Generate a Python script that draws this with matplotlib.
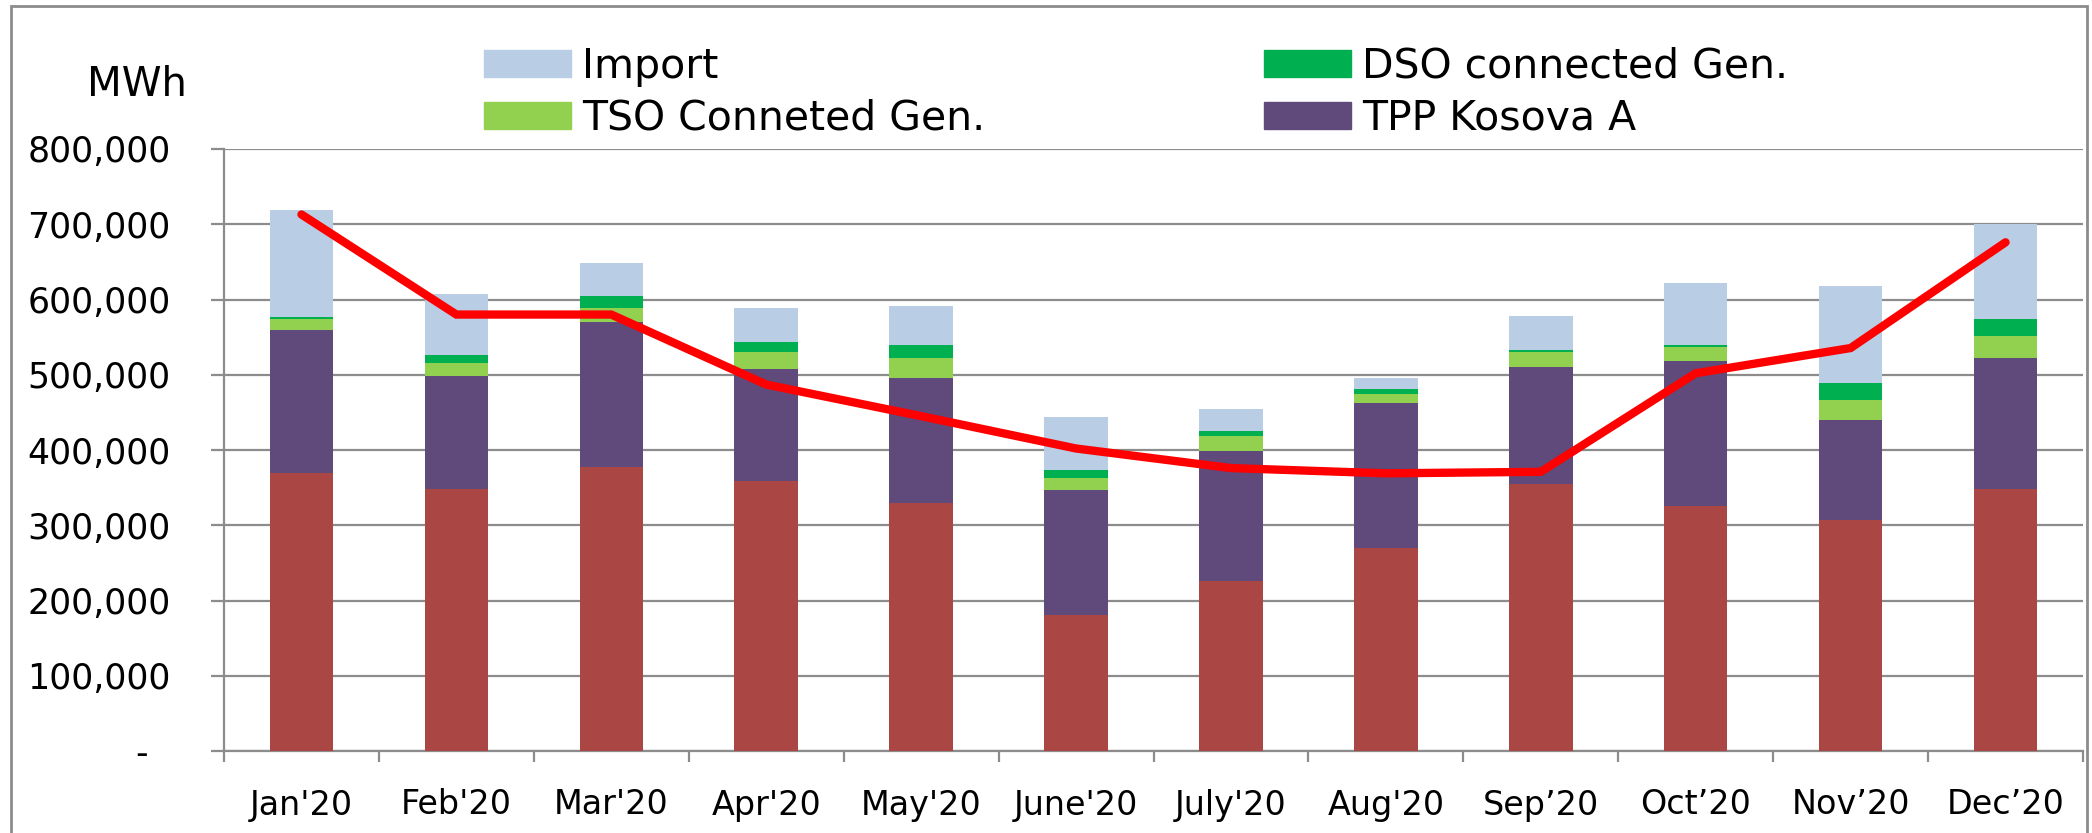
import matplotlib
matplotlib.use("Agg")
import matplotlib.pyplot as plt
from matplotlib.patches import Patch, Rectangle
from matplotlib.ticker import FixedLocator, FuncFormatter

# Monthly supply mix (MWh)
months = ["Jan'20", "Feb'20", "Mar'20", "Apr'20", "May'20", "June'20",
          "July'20", "Aug'20", "Sep\u201920", "Oct\u201920", "Nov\u201920", "Dec\u201920"]
tpp_kosova_b = [370000, 348000, 377000, 358500, 329000, 181000,
                226000, 270000, 355000, 325000, 307000, 348000]
tpp_kosova_a = [189000, 151000, 193000, 148500, 167000, 166000,
                173000, 192000, 155000, 193000, 133000, 174000]
tso_gen = [15000, 16000, 19000, 23000, 26000, 15500,
           19500, 12000, 20000, 19000, 26000, 30000]
dso_gen = [3000, 11000, 15000, 14000, 18000, 11000,
           6500, 7000, 2500, 3000, 23000, 21500]
imports = [142000, 81500, 45000, 45000, 52000, 70500,
           30000, 15000, 45000, 82000, 129500, 126500]
consumption = [713000, 580000, 580000, 487000, 445000, 402000,
               376000, 369000, 371000, 502000, 535500, 676000]

C_B = "#AA4643"
C_A = "#604A7B"
C_TSO = "#92D050"
C_DSO = "#00B050"
C_IMP = "#B9CDE5"
GRID = "#8c8c8c"

W, H = 2092, 833
fig = plt.figure(figsize=(W / 100, H / 100), dpi=100)
ax = fig.add_axes([224 / W, 1 - 751 / H, (2083 - 224) / W, (751 - 149) / H])

x = list(range(len(months)))
bw = 0.41
bottom = [0] * len(months)
for vals, col in [(tpp_kosova_b, C_B), (tpp_kosova_a, C_A), (tso_gen, C_TSO),
                  (dso_gen, C_DSO), (imports, C_IMP)]:
    ax.bar(x, vals, bw, bottom=bottom, color=col, linewidth=0, zorder=3)
    bottom = [b + v for b, v in zip(bottom, vals)]

ax.plot(x, consumption, color="#FF0000", lw=6, solid_capstyle="round",
        solid_joinstyle="miter", zorder=4)

ax.set_xlim(-0.5, len(months) - 0.5)
ax.set_ylim(0, 800000)
ax.set_yticks(range(0, 800001, 100000))
ax.yaxis.set_major_formatter(FuncFormatter(lambda v, p: "-  " if v == 0 else f"{int(v):,}"))
ax.grid(axis="y", color=GRID, lw=1.6, zorder=0)

ax.set_xticks(x)
ax.set_xticklabels(months)
ax.xaxis.set_minor_locator(FixedLocator([i - 0.5 for i in range(len(months) + 1)]))
ax.tick_params(axis="x", which="major", length=0, pad=27, labelsize=24)
ax.tick_params(axis="x", which="minor", length=8, width=1.6, color=GRID)
ax.tick_params(axis="y", length=9.4, width=1.6, color=GRID, pad=29, labelsize=25)

for s in ["top", "right"]:
    ax.spines[s].set_visible(False)
for s in ["left", "bottom"]:
    ax.spines[s].set_color(GRID)
    ax.spines[s].set_linewidth(1.6)

fig.text(137 / W, 1 - 96 / H, "MWh", ha="center", va="baseline", fontsize=29)

leg_kw = dict(frameon=False, fontsize=29.5, handlelength=2.12, handleheight=0.63,
              handletextpad=0.27, labelspacing=0.29, borderpad=0, borderaxespad=0,
              loc="upper left")
leg1 = fig.legend([Patch(color=C_IMP), Patch(color=C_TSO)],
                  ["Import", "TSO Conneted Gen."],
                  bbox_to_anchor=(484 / W, 1 - 47 / H), **leg_kw)
leg2 = fig.legend([Patch(color=C_DSO), Patch(color=C_A)],
                  ["DSO connected Gen.", "TPP Kosova A"],
                  bbox_to_anchor=(1264 / W, 1 - 47 / H), **leg_kw)

fig.add_artist(Rectangle((11 / W, -0.02), (2087 - 11) / W, 1 - 6 / H + 0.02,
                         transform=fig.transFigure, fill=False,
                         edgecolor=GRID, lw=2))

fig.savefig("out.png", dpi=100)
